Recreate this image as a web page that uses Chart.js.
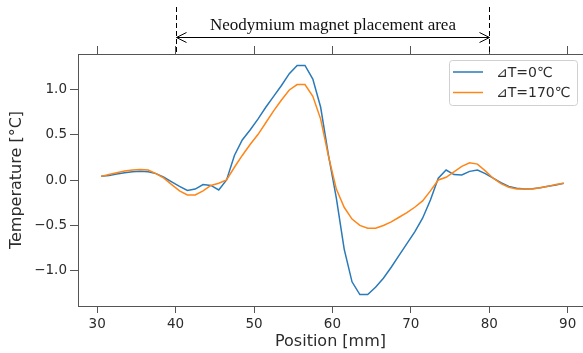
<!DOCTYPE html>
<html>
<head>
<meta charset="utf-8">
<script src="https://cdn.jsdelivr.net/npm/chart.js@4/dist/chart.umd.min.js"></script>
<style>
  html, body { margin: 0; padding: 0; background: #fff; overflow: hidden; }
</style>
</head>
<body>
<canvas id="chart-temp" width="583" height="353"></canvas>
<script>

/**
 * Temperature along the position, two dT cases
 */

var positions = [30.5, 31.5, 32.5, 33.5, 34.5, 35.5, 36.5, 37.5, 38.5, 39.5,
    40.5, 41.5, 42.5, 43.5, 44.5, 45.5, 46.5, 47.5, 48.5, 49.5,
    50.5, 51.5, 52.5, 53.5, 54.5, 55.5, 56.5, 57.5, 58.5, 59.5,
    60.5, 61.5, 62.5, 63.5, 64.5, 65.5, 66.5, 67.5, 68.5, 69.5,
    70.5, 71.5, 72.5, 73.5, 74.5, 75.5, 76.5, 77.5, 78.5, 79.5,
    80.5, 81.5, 82.5, 83.5, 84.5, 85.5, 86.5, 87.5, 88.5, 89.5];

var tempDt0 = [0.04, 0.05, 0.065, 0.08, 0.09, 0.095, 0.09, 0.07, 0.03, -0.02,
    -0.07, -0.115, -0.10, -0.05, -0.06, -0.11, 0.0, 0.27, 0.44, 0.55,
    0.67, 0.80, 0.92, 1.04, 1.17, 1.26, 1.26, 1.11, 0.80, 0.27,
    -0.20, -0.76, -1.12, -1.26, -1.26, -1.18, -1.08, -0.96, -0.83, -0.70,
    -0.57, -0.42, -0.22, 0.02, 0.11, 0.06, 0.055, 0.095, 0.11, 0.07,
    0.02, -0.03, -0.07, -0.09, -0.10, -0.095, -0.085, -0.07, -0.055, -0.035];

var tempDt170 = [0.04, 0.06, 0.08, 0.10, 0.11, 0.115, 0.11, 0.07, 0.02, -0.05,
    -0.12, -0.165, -0.165, -0.12, -0.06, -0.035, 0.0, 0.14, 0.27, 0.39,
    0.50, 0.63, 0.76, 0.88, 0.99, 1.05, 1.05, 0.92, 0.67, 0.26,
    -0.10, -0.30, -0.43, -0.50, -0.53, -0.53, -0.50, -0.46, -0.41, -0.36,
    -0.30, -0.23, -0.12, 0.0, 0.03, 0.09, 0.15, 0.19, 0.175, 0.10,
    0.02, -0.04, -0.08, -0.10, -0.10, -0.10, -0.085, -0.07, -0.05, -0.035];

var seriesLabels = ["\u22BFT=0\u2103", "\u22BFT=170\u2103"];
var xTicks = [30, 40, 50, 60, 70, 80, 90];
var yTicks = [-1.0, -0.5, 0.0, 0.5, 1.0];

// magnet area marked above the plot
var magnetStart = 40;
var magnetEnd = 80;
var magnetText = "Neodymium magnet placement area";

var axisColor = "#555555";
var textColor = "#2b2b2b";
var sans = "'DejaVu Sans', sans-serif";

function points(values) {
    return positions.map(function (p, i) { return { x: p, y: values[i] }; });
}

function setTicks(list) {
    return function (scale) {
        scale.ticks = list.map(function (v) { return { value: v }; });
    };
}

var overlay = {
    id: "overlay",
    afterDraw: function (chart) {
        var ctx = chart.ctx;
        var area = chart.chartArea;
        var xs = chart.scales.x;
        var x1 = Math.round(xs.getPixelForValue(magnetStart)) + 0.5;
        var x2 = Math.round(xs.getPixelForValue(magnetEnd)) + 0.5;

        ctx.save();
        ctx.strokeStyle = "#000";
        ctx.lineWidth = 1;

        // dashed limits
        ctx.setLineDash([5, 3]);
        ctx.beginPath();
        ctx.moveTo(x1, 7); ctx.lineTo(x1, area.top);
        ctx.moveTo(x2, 7); ctx.lineTo(x2, area.top);
        ctx.stroke();
        ctx.setLineDash([]);

        // double arrow
        var ay = 37.5;
        ctx.beginPath();
        ctx.moveTo(x1, ay); ctx.lineTo(x2, ay);
        ctx.moveTo(x1 + 10, ay - 5); ctx.lineTo(x1, ay); ctx.lineTo(x1 + 10, ay + 5);
        ctx.moveTo(x2 - 10, ay - 5); ctx.lineTo(x2, ay); ctx.lineTo(x2 - 10, ay + 5);
        ctx.stroke();

        ctx.fillStyle = "#111";
        ctx.font = "17px 'Liberation Serif', serif";
        ctx.textAlign = "center";
        ctx.textBaseline = "alphabetic";
        ctx.fillText(magnetText, (x1 + x2) / 2, 30);

        // legend box
        var bx = 449.5, by = 60.5, bw = 128, bh = 45;
        ctx.fillStyle = "rgba(255,255,255,0.85)";
        ctx.strokeStyle = "#d0d0d0";
        ctx.beginPath();
        ctx.roundRect(bx, by, bw, bh, 3);
        ctx.fill();
        ctx.stroke();

        ctx.font = "14px " + sans;
        ctx.textAlign = "left";
        ctx.textBaseline = "middle";
        chart.data.datasets.forEach(function (ds, i) {
            var ly = 72 + i * 20.5;
            ctx.strokeStyle = ds.borderColor;
            ctx.lineWidth = 1.5;
            ctx.beginPath();
            ctx.moveTo(453, ly); ctx.lineTo(483, ly);
            ctx.stroke();
            ctx.fillStyle = textColor;
            ctx.fillText(ds.label, 496, ly + 1);
        });
        ctx.restore();
    }
};

new Chart("chart-temp", {
    type: "line",
    data: {
        datasets: [{
            label: seriesLabels[0],
            data: points(tempDt0),
            borderColor: "#2a7ab9",
            borderWidth: 1.5,
            pointRadius: 0,
            tension: 0,
            order: 1
        }, {
            label: seriesLabels[1],
            data: points(tempDt170),
            borderColor: "#ff8517",
            borderWidth: 1.5,
            pointRadius: 0,
            tension: 0,
            order: 0
        }]
    },
    options: {
        responsive: false,
        animation: false,
        devicePixelRatio: 1,
        layout: { padding: { top: 46, left: 0, right: 0, bottom: 0 } },
        plugins: {
            legend: { display: false },
            tooltip: { enabled: false }
        },
        scales: {
            x: {
                type: "linear",
                position: "bottom",
                min: 27.55,
                max: 91.96,
                afterBuildTicks: setTicks(xTicks),
                afterFit: function (s) { s.height = 47; },
                grid: { drawOnChartArea: false, tickLength: 7, color: axisColor },
                border: { color: axisColor },
                ticks: { color: textColor, font: { family: sans, size: 13.5 }, padding: 3, maxRotation: 0 },
                title: {
                    display: true,
                    text: "Position [mm]",
                    color: textColor,
                    font: { family: sans, size: 16 },
                    padding: { top: 0, bottom: 2 }
                }
            },
            xTop: {
                type: "linear",
                position: "top",
                min: 27.55,
                max: 91.96,
                afterBuildTicks: setTicks(xTicks),
                afterFit: function (s) { s.height = 8; },
                grid: { drawOnChartArea: false, tickLength: 8, color: axisColor },
                border: { color: axisColor },
                ticks: { display: false }
            },
            y: {
                min: -1.386,
                max: 1.386,
                afterBuildTicks: setTicks(yTicks),
                afterFit: function (s) { s.width = 78; },
                grid: { drawOnChartArea: false, tickLength: 8, color: axisColor },
                border: { color: axisColor },
                ticks: {
                    color: textColor,
                    font: { family: sans, size: 13.5 },
                    padding: 3,
                    callback: function (v) { return v.toFixed(1).replace("-", "\u2212"); }
                },
                title: {
                    display: true,
                    text: "Temperature [\u00B0C]",
                    color: textColor,
                    font: { family: sans, size: 16 },
                    padding: { top: 7, bottom: 0 }
                }
            }
        }
    },
    plugins: [overlay]
});

</script>
</body>
</html>
